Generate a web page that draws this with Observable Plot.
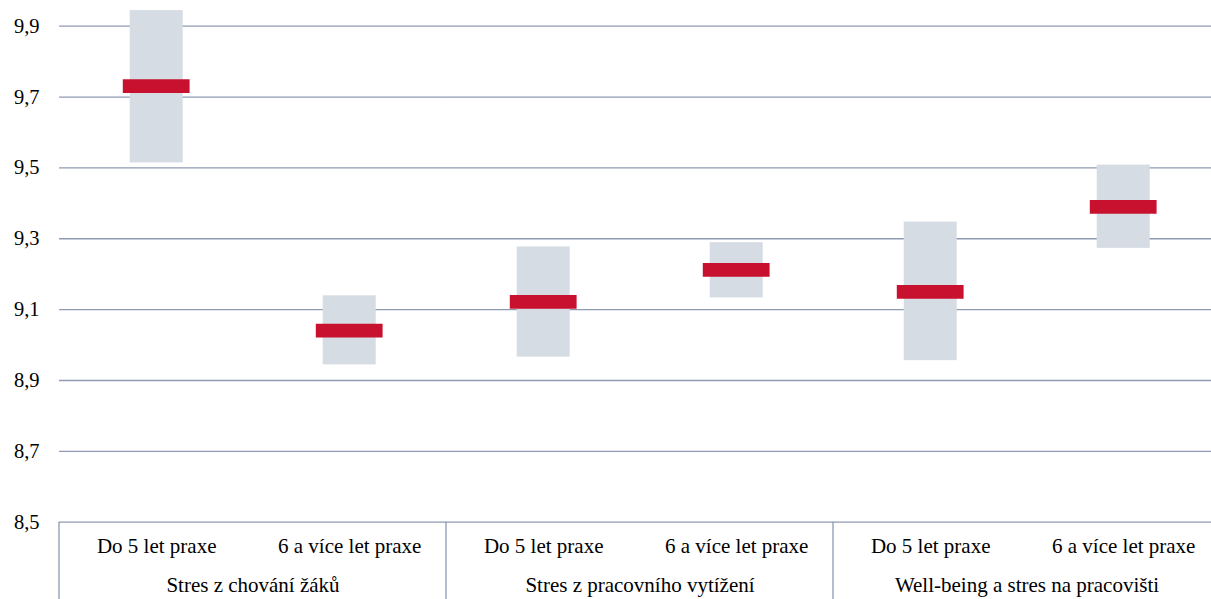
<!DOCTYPE html>
<html>
<head>
<meta charset="utf-8">
<script src="https://cdn.jsdelivr.net/npm/d3@7"></script>
<script src="https://cdn.jsdelivr.net/npm/@observablehq/plot@0.6"></script>
<style>
  html, body { margin: 0; padding: 0; background: #fff; overflow: hidden; }
  #chart { width: 1211px; height: 599px; overflow: hidden; }
  #chart svg { display: block; max-width: none !important; }
</style>
</head>
<body>
<div id="chart"></div>
<script>
// Data
const groups = ["Stres z chování žáků", "Stres z pracovního vytížení", "Well-being a stres na pracovišti"];
const subgroups = ["Do 5 let praxe", "6 a více let praxe"];
const rowGroup = [groups[0], groups[0], groups[1], groups[1], groups[2], groups[2]];
const rowSub = [subgroups[0], subgroups[1], subgroups[0], subgroups[1], subgroups[0], subgroups[1]];
const means = [9.731, 9.041, 9.122, 9.212, 9.150, 9.390];
const lower = [9.514, 8.944, 8.966, 9.133, 8.956, 9.273];
const upper = [9.944, 9.139, 9.277, 9.289, 9.347, 9.508];
const yTicks = [8.5, 8.7, 8.9, 9.1, 9.3, 9.5, 9.7, 9.9];

const rows = means.map((m, i) => ({group: rowGroup[i], sub: rowSub[i], mean: m, lo: lower[i], hi: upper[i]}));

const gridColor = "#8E9BB3";
const serif = "Liberation Serif";
const fmt = d => d.toFixed(1).replace(".", ",");

const plot = Plot.plot({
  width: 1221,
  height: 599,
  marginLeft: 57.3,
  marginRight: 0,
  marginTop: 25.7,
  marginBottom: 77.3,
  style: {fontSize: "21px", color: "#000", background: "#fff", overflow: "visible", maxWidth: "none"},
  fx: {domain: groups, padding: 0},
  x: {domain: subgroups, paddingInner: 0.725, paddingOuter: 0.3626},
  y: {domain: [8.5, 9.9]},
  marks: [
    Plot.gridY(yTicks, {stroke: gridColor, strokeOpacity: 1, strokeWidth: 1.3}),
    Plot.barY(rows, {fx: "group", x: "sub", y1: "lo", y2: "hi", fill: "#D6DCE4"}),
    Plot.tickY(rows, {fx: "group", x: "sub", y: "mean", stroke: "#C8102F", strokeWidth: 13.7, insetLeft: -6.9, insetRight: -6.9}),
    Plot.axisY(yTicks, {tickSize: 0, tickPadding: 20, tickFormat: fmt, label: null, fontSize: 20.5, fontFamily: serif, fontVariant: "normal"}),
    Plot.axisX({anchor: "bottom", tickSize: 0, tickPadding: 16.3, label: null, fontSize: 21, fontFamily: serif}),
    Plot.axisFx({anchor: "bottom", tickSize: 0, tickPadding: 54.8, label: null, fontSize: 21, fontFamily: serif})
  ]
});

document.getElementById("chart").appendChild(plot);

const svg = d3.select(plot);
svg.attr("font-family", serif).style("font-family", serif);
svg.selectAll("text").style("font-family", serif, "important");

// Category separators below the 8,5 line, placed with the plot's own scales
const fx = plot.scale("fx");
const y = plot.scale("y");
const y0 = y.apply(8.5);
const edges = groups.map(g => fx.apply(g));
edges.push(fx.apply(groups[groups.length - 1]) + fx.bandwidth);
svg.append("g")
  .selectAll("line")
  .data(edges)
  .join("line")
  .attr("x1", d => d).attr("x2", d => d)
  .attr("y1", y0).attr("y2", 599)
  .attr("stroke", gridColor)
  .attr("stroke-width", 1.3);
</script>
</body>
</html>
